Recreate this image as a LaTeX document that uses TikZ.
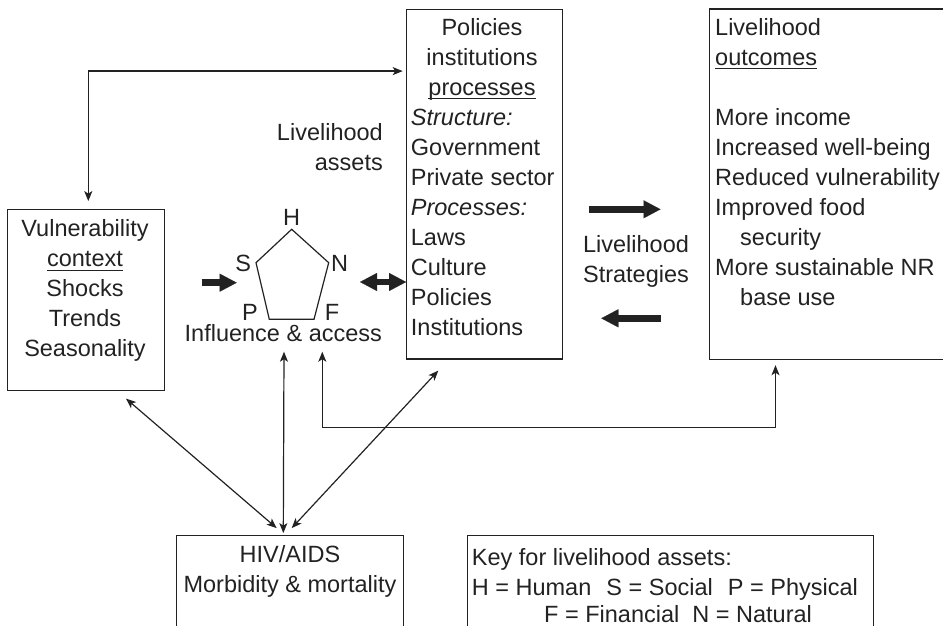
\documentclass[tikz,border=0pt]{standalone}
\usepackage{fontspec}
\setmainfont{Liberation Sans}
\usetikzlibrary{arrows.meta,calc}
\definecolor{ink}{HTML}{222222}
\newcommand{\myul}[1]{\setbox0\hbox{#1}\rlap{\rule[-4pt]{\wd0}{1.1pt}}\box0}
\newcommand{\fst}{\rule{0pt}{20pt}}
\begin{document}
\begin{tikzpicture}[x=1pt,y=-1pt,
  every node/.style={font=\fontsize{23.5}{30}\selectfont, inner sep=0pt, text=ink},
  boxline/.style={draw=ink, line width=1.2pt},
  frame/.style={rectangle, inner sep=0pt},
  link/.style={draw=ink, line width=1.2pt,
    {Stealth[length=10pt,width=8pt,inset=2.5pt]}-{Stealth[length=10pt,width=8pt,inset=2.5pt]}},
  bigarrow/.style={draw=ink, line width=6.5pt,
    -{Triangle[length=17pt,width=18pt,line width=0.1pt]}},
  bigdouble/.style={draw=ink, line width=6.5pt,
    {Triangle[length=17pt,width=18pt,line width=0.1pt]}-{Triangle[length=17pt,width=18pt,line width=0.1pt]}}
]
\useasboundingbox (0,0) rectangle (943,626);

% boxes
\node[frame, boxline, minimum width=157.4pt, minimum height=181.4pt] (vuln) at (86,300) {};
\node[frame, boxline, minimum width=156pt, minimum height=349.7pt] (pol) at (484.7,184.15) {};
\node[frame, minimum width=233.7pt, minimum height=349.7pt] (out) at (826.15,184.15) {};
\draw[boxline] (out.north east) -- (out.north west) -- (out.south west) -- (out.south east);
\node[frame, minimum width=226pt, minimum height=90pt] (hiv) at (290,581) {};
\draw[boxline] (hiv.south west) -- (hiv.north west) -- (hiv.north east) -- (hiv.south east);
\node[frame, minimum width=405.7pt, minimum height=90.6pt] (key) at (670.15,580.85) {};
\draw[boxline] (key.south west) -- (key.north west) -- (key.north east) -- (key.south east);

% box texts
\node[anchor=north, align=center] (vulntxt) at (85,216.5)
  {\fst Vulnerability\\\myul{context}\\Shocks\\Trends\\Seasonality};
\node[anchor=north, align=center] (poltitle) at (482,15)
  {\fst Policies\\institutions\\\myul{processes}};
\node[anchor=north west, align=left] (polbody) at (410.7,105)
  {\fst\textit{Structure:}\\Government\\Private sector\\\textit{Processes:}\\Laws\\Culture\\Policies\\Institutions};
\node[anchor=north west, align=left] (outtxt) at (715,15)
  {\fst Livelihood\\\myul{outcomes}\\~\\More income\\Increased well-being\\Reduced vulnerability\\Improved food\\\hspace*{25pt}security\\More sustainable NR\\\hspace*{25pt}base use};
\node[anchor=north, align=center] (hivtxt) at (290,542)
  {\fst HIV/AIDS\\Morbidity \& mortality};
\node[anchor=north west, align=left] (keytxt) at (471.7,545)
  {\fst Key for livelihood assets:\\H = Human\hspace{8.5pt} S = Social\hspace{8.5pt} P = Physical\\[-3pt]\hspace*{72.3pt}F = Financial\hspace{6.5pt} N = Natural};

% free labels
\node[anchor=north east, align=right] (assets) at (383,120) {\fst Livelihood\\assets};
\node[anchor=north, align=center] (strat) at (636,232.7) {\fst Livelihood\\Strategies};
\node[anchor=base] (infl) at (283.3,341.7) {Influence \& access};

% pentagon
\coordinate (pH) at (291.7,229.3);
\coordinate (pN) at (328.7,262.7);
\coordinate (pF) at (314,319.3);
\coordinate (pP) at (269.3,319.3);
\coordinate (pS) at (256,262.7);
\draw[boxline, line join=miter] (pH) -- (pN) -- (pF) -- (pP) -- (pS) -- cycle;
\node[anchor=base] (lH) at (291.7,225) {H};
\node[anchor=base] (lS) at (243.3,271.7) {S};
\node[anchor=base] (lN) at (339.5,271.7) {N};
\node[anchor=base] (lP) at (250,320) {P};
\node[anchor=base] (lF) at (332,320) {F};

% thin connectors
\draw[link] ($(vuln.north)+(2.3,-7.6)$) |- ($(pol.north west)+(-3.4,62.4)$);
\draw[link] ($(vuln.south)+(40,7.3)$) -- ($(hiv.north)+(-13.3,-7.7)$);
\draw[link] ($(hiv.north)+(-6.7,-2.7)$) -- ($(infl.base)+(0.7,10)$);
\draw[link] ($(hiv.north)+(1.7,-7.7)$) -- ($(pol.south)+(-46.4,11)$);
\draw[link] ($(infl.base)+(39,10)$) -- ++(0,75.6) -| ($(out.south west)+(66.4,6)$);

% thick arrows
\draw[bigarrow] ($(vuln.east)+(36.3,-17.3)$) -- ($(pS)+(-19.3,20)$);
\draw[bigdouble] ($(pN)+(31.3,19.3)$) -- ($(pol.west)+(0,97.85)$);
\draw[bigarrow] ($(pol.east)+(25.6,25.15)$) -- ($(out.west)+(-48.6,25.15)$);
\draw[bigarrow] ($(out.west)+(-48.3,134.15)$) -- ($(pol.east)+(38,134.15)$);
\end{tikzpicture}
\end{document}
